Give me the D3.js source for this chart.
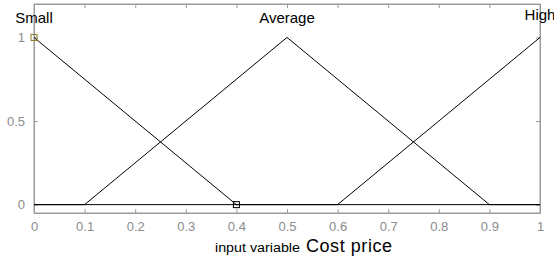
<!DOCTYPE html>
<html lang="en">
  <head>
    <meta charset="UTF-8" />
    <title>Membership functions</title>
    <script src="https://d3js.org/d3.v7.min.js"></script>
    <style>
      body { margin: 0; background: #fff; }
      svg { display: block; font-family: "Liberation Sans", Arial, sans-serif; }
      .tick text { fill: #8c8c8c; font-size: 13px; }
      .axis path, .axis line { stroke: #9a9a9a; }
    </style>
  </head>
  <body>
    <svg id="canvas"></svg>
  </body>
  <script>
    // membership function names and triangle params [a, b, c]
    let mfNames = ["Small", "Average", "High"];
    let mfParams = [
      [-0.4, 0, 0.4],
      [0.1, 0.5, 0.9],
      [0.6, 1, 1.4],
    ];
    let xTicks = [0, 0.1, 0.2, 0.3, 0.4, 0.5, 0.6, 0.7, 0.8, 0.9, 1];
    let yTicks = [0, 0.5, 1];
    let xLabel = "input variable";
    let xName = "Cost price";

    let width = 554;
    let height = 261;
    let plotLeft = 34, plotRight = 540, plotTop = 4, plotBottom = 213;

    let svg = d3.select("svg").attr("width", width).attr("height", height);

    let xScale = d3.scaleLinear().domain([0, 1]).range([plotLeft, plotRight]);
    let yScale = d3.scaleLinear().domain([-0.05, 1.2]).range([plotBottom, plotTop]);

    let trimf = (x, p) => {
      let [a, b, c] = p;
      if (x <= a || x >= c) return x === b ? 1 : 0;
      if (x <= b) return (x - a) / (b - a);
      return (c - x) / (c - b);
    };

    // axes: ticks pointing inward on all four sides
    svg.append("g").attr("class", "axis")
      .attr("transform", "translate(0," + plotBottom + ")")
      .call(d3.axisBottom(xScale).tickValues(xTicks).tickSizeInner(-4).tickSizeOuter(0).tickPadding(9).tickFormat(d3.format("~g")));
    svg.append("g").attr("class", "axis")
      .attr("transform", "translate(0," + plotTop + ")")
      .call(d3.axisTop(xScale).tickValues(xTicks).tickSizeInner(-4).tickSizeOuter(0).tickFormat(""));
    svg.append("g").attr("class", "axis")
      .attr("transform", "translate(" + plotLeft + ",0)")
      .call(d3.axisLeft(yScale).tickValues(yTicks).tickSizeInner(-4).tickSizeOuter(0).tickPadding(9).tickFormat(d3.format("~g")));
    svg.append("g").attr("class", "axis")
      .attr("transform", "translate(" + plotRight + ",0)")
      .call(d3.axisRight(yScale).tickValues(yTicks).tickSizeInner(-4).tickSizeOuter(0).tickFormat(""));
    // close the box
    svg.append("rect")
      .attr("x", plotLeft).attr("y", plotTop)
      .attr("width", plotRight - plotLeft).attr("height", plotBottom - plotTop)
      .attr("fill", "none").attr("stroke", "#9a9a9a");

    let line = d3.line().x((d) => xScale(d[0])).y((d) => yScale(d[1]));

    mfParams.forEach((p, i) => {
      let xs = [0, 1].concat(p.filter((v) => v >= 0 && v <= 1)).sort((a, b) => a - b);
      let pts = xs.map((x) => [x, trimf(x, p)]);
      svg.append("path").datum(pts)
        .attr("d", line)
        .attr("fill", "none")
        .attr("stroke", "#000")
        .attr("stroke-width", 1);

      svg.append("text")
        .attr("x", xScale(p[1]))
        .attr("y", i === 2 ? 20 : 23)
        .attr("text-anchor", "middle")
        .attr("font-size", 15)
        .attr("fill", "#000")
        .text(mfNames[i]);
    });

    // selected mf markers (Small)
    let sel = mfParams[0];
    let marks = [[sel[1], 1], [sel[2], 0]];
    svg.selectAll(".mark").data(marks).enter().append("rect")
      .attr("class", "mark")
      .attr("x", (d) => xScale(d[0]) - 3)
      .attr("y", (d) => yScale(d[1]) - 3)
      .attr("width", 6).attr("height", 6)
      .attr("fill", "none")
      .attr("stroke", (d, i) => (i === 0 ? "#8a7a20" : "#000"));

    svg.append("text")
      .attr("x", 215).attr("y", 252)
      .attr("font-size", 12)
      .attr("textLength", 85).attr("lengthAdjust", "spacingAndGlyphs")
      .text(xLabel);
    svg.append("text")
      .attr("x", 306).attr("y", 252)
      .attr("font-size", 18)
      .attr("textLength", 86).attr("lengthAdjust", "spacing")
      .text(xName);
  </script>
</html>
